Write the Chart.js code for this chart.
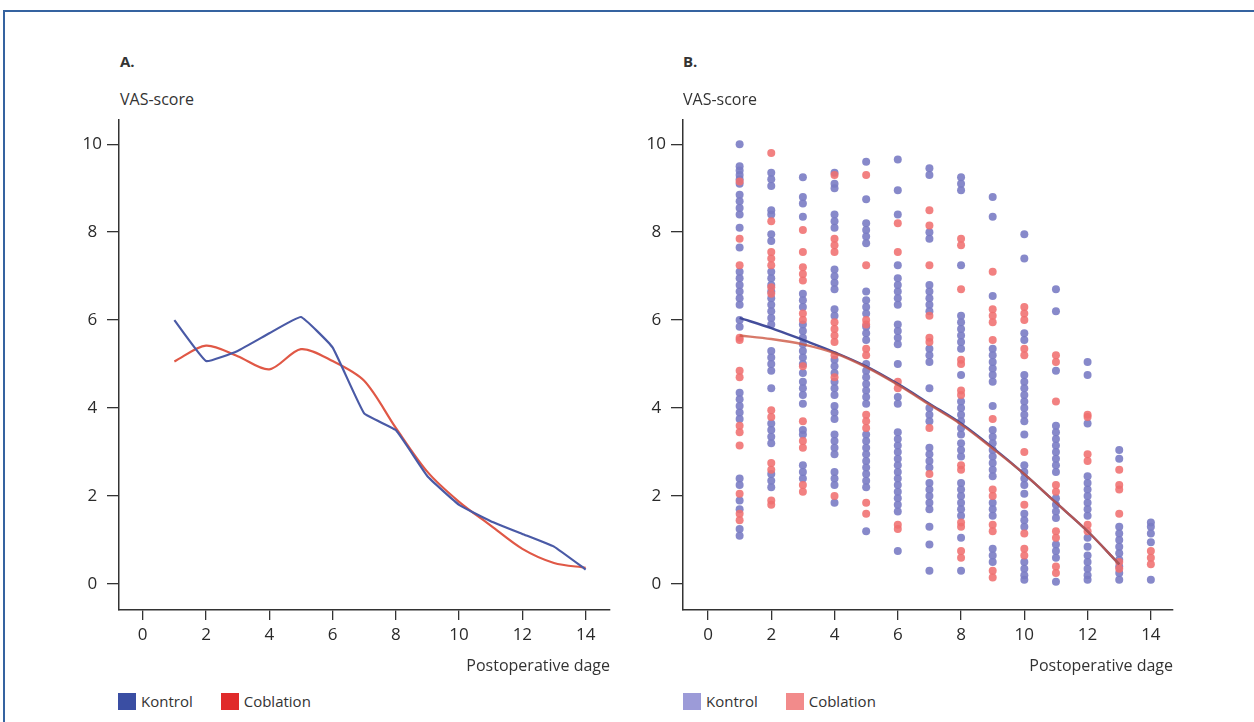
<!DOCTYPE html>
<html>
<head>
<meta charset="utf-8">
<script src="https://cdn.jsdelivr.net/npm/chart.js@4/dist/chart.umd.min.js"></script>
<style>
  body { margin: 0; background: #fff; font-family: "Open Sans", sans-serif; color: #333; }
  #page { position: relative; width: 1254px; height: 722px; overflow: hidden; }
  .frame { position: absolute; left: 3px; top: 10px; right: -4px; bottom: -4px; border-top: 2px solid #3563a0; border-left: 2px solid #3563a0; }
  .wrap { position: absolute; top: 105px; width: 600px; height: 565px; }
  .txt { position: absolute; white-space: nowrap; line-height: 1; }
  .panel { font-weight: bold; font-size: 15px; }
  .ytitle { font-size: 16px; }
  .xtitle { font-size: 16px; text-align: right; }
  .legend { position: absolute; top: 691px; font-size: 15px; display: flex; align-items: center; }
  .legend span.box { display: inline-block; width: 18px; height: 17px; margin-right: 5px; }
  .legend span.lab { margin-right: 28px; }
</style>
</head>
<body>
<div id="page">
  <div class="frame"></div>

  <div class="txt panel" style="left:120px; top:54px;">A.</div>
  <div class="txt ytitle" style="left:120px; top:91px;">VAS-score</div>
  <div class="wrap" style="left:40px;"><canvas id="chartA"></canvas></div>
  <div class="txt xtitle" style="right:644px; top:657px;">Postoperative dage</div>
  <div class="legend" id="legendA" style="left:118px;"></div>

  <div class="txt panel" style="left:683px; top:54px;">B.</div>
  <div class="txt ytitle" style="left:683px; top:91px;">VAS-score</div>
  <div class="wrap" style="left:605px;"><canvas id="chartB"></canvas></div>
  <div class="txt xtitle" style="right:81px; top:657px;">Postoperative dage</div>
  <div class="legend" id="legendB" style="left:683px;"></div>
</div>

<script>
// --- data -------------------------------------------------------------
const days = [1, 2, 3, 4, 5, 6, 7, 8, 9, 10, 11, 12, 13, 14];
const xTicks = [0, 2, 4, 6, 8, 10, 12, 14];
const yTicks = [0, 2, 4, 6, 8, 10];

// A: mean VAS per day
const kontrolMean   = [6.0, 5.07, 5.3, 5.7, 6.07, 5.38, 3.88, 3.5, 2.45, 1.8, 1.43, 1.14, 0.85, 0.33];
const coblationMean = [5.06, 5.42, 5.18, 4.88, 5.34, 5.07, 4.62, 3.55, 2.55, 1.87, 1.33, 0.8, 0.48, 0.37];

// B: individual scores, one list per day
const kontrolScatter = [
  [10.0, 9.5, 9.4, 9.3, 9.2, 9.1, 8.85, 8.7, 8.55, 8.4, 8.1, 7.65, 7.1, 6.95, 6.8, 6.65, 6.5, 6.35, 6.0, 5.85, 4.35, 4.2, 4.05, 3.9, 3.75, 2.4, 2.25, 1.9, 1.7, 1.25, 1.1],
  [9.35, 9.2, 9.05, 8.5, 8.4, 7.95, 7.8, 7.1, 6.95, 6.8, 6.65, 6.5, 6.35, 6.2, 6.05, 5.9, 5.3, 5.15, 5.0, 4.85, 4.45, 3.65, 3.5, 3.35, 3.2, 2.5, 2.35, 2.2],
  [9.25, 8.8, 8.65, 8.35, 6.6, 6.45, 6.3, 5.9, 5.75, 5.6, 5.45, 5.3, 5.15, 5.0, 4.8, 4.6, 4.45, 4.3, 4.1, 3.5, 3.4, 2.7, 2.55, 2.4],
  [9.35, 9.1, 9.0, 8.4, 8.25, 8.1, 7.15, 7.0, 6.85, 6.7, 6.25, 6.1, 5.1, 4.95, 4.8, 4.6, 4.45, 4.3, 4.05, 3.9, 3.75, 3.4, 3.25, 3.1, 2.95, 2.55, 2.4, 2.25, 1.85],
  [9.6, 8.75, 8.2, 8.05, 7.9, 7.75, 6.65, 6.45, 6.3, 6.15, 5.85, 5.7, 5.55, 5.0, 4.85, 4.7, 4.55, 4.4, 4.25, 4.1, 3.4, 3.25, 3.1, 2.95, 2.8, 2.65, 2.5, 2.35, 2.2, 1.2],
  [9.65, 8.95, 8.4, 7.25, 6.95, 6.8, 6.65, 6.5, 6.35, 5.9, 5.75, 5.6, 5.45, 5.0, 4.25, 4.1, 3.45, 3.3, 3.15, 3.0, 2.85, 2.7, 2.55, 2.4, 2.25, 2.1, 1.95, 1.8, 1.65, 0.75],
  [9.45, 9.3, 8.0, 7.85, 6.8, 6.65, 6.5, 6.35, 6.2, 5.35, 5.2, 5.05, 4.45, 4.0, 3.85, 3.7, 3.1, 2.95, 2.8, 2.65, 2.3, 2.15, 2.0, 1.85, 1.7, 1.3, 0.9, 0.3],
  [9.25, 9.1, 8.95, 7.25, 6.1, 5.95, 5.8, 5.65, 5.5, 5.35, 4.75, 4.15, 4.0, 3.85, 3.7, 3.55, 3.4, 3.2, 3.05, 2.9, 2.3, 2.15, 2.0, 1.85, 1.7, 1.55, 1.05, 0.3],
  [8.8, 8.35, 6.55, 5.35, 5.2, 5.05, 4.9, 4.75, 4.6, 4.05, 3.5, 3.35, 3.2, 3.05, 2.9, 2.75, 2.6, 2.45, 1.85, 1.7, 1.55, 0.8, 0.65, 0.5],
  [7.95, 7.4, 5.7, 5.55, 4.75, 4.6, 4.45, 4.3, 4.15, 4.0, 3.85, 3.7, 3.4, 2.7, 2.55, 2.4, 2.25, 2.05, 1.6, 1.45, 1.3, 0.5, 0.35, 0.2, 0.1],
  [6.7, 6.2, 4.85, 3.6, 3.45, 3.3, 3.15, 3.0, 2.85, 2.7, 2.55, 1.95, 1.8, 1.65, 1.5, 0.9, 0.75, 0.6, 0.05],
  [5.05, 4.75, 3.65, 2.45, 2.3, 2.15, 2.0, 1.85, 1.7, 1.55, 1.05, 0.85, 0.65, 0.5, 0.35, 0.2, 0.1],
  [3.05, 2.85, 1.3, 1.15, 1.0, 0.85, 0.7, 0.55, 0.4, 0.25, 0.1],
  [1.4, 1.3, 1.15, 0.95, 0.1]
];
const coblationScatter = [
  [9.15, 7.85, 7.25, 5.6, 5.55, 4.85, 4.7, 3.6, 3.45, 3.15, 2.05, 1.6, 1.45],
  [9.8, 8.25, 7.55, 7.4, 7.25, 6.75, 6.6, 3.95, 3.8, 2.75, 2.6, 1.9, 1.8],
  [8.05, 7.55, 7.2, 7.05, 6.9, 6.15, 6.0, 4.95, 3.7, 3.25, 3.1, 2.25, 2.1],
  [9.3, 7.85, 7.7, 7.55, 5.95, 5.8, 5.65, 5.5, 5.2, 4.7, 2.0],
  [9.3, 7.25, 6.0, 5.9, 5.35, 5.2, 3.85, 3.7, 3.55, 1.85, 1.6],
  [8.2, 7.55, 4.6, 4.45, 1.35, 1.25],
  [8.5, 8.15, 7.25, 6.1, 5.6, 5.5, 3.55, 2.5],
  [7.85, 7.7, 6.7, 5.1, 5.0, 4.4, 4.3, 2.7, 2.6, 1.4, 1.3, 0.75, 0.6],
  [7.1, 6.25, 6.1, 5.95, 5.55, 3.75, 2.15, 2.0, 1.35, 1.2, 0.3, 0.15],
  [6.3, 6.15, 6.0, 5.35, 5.2, 3.0, 1.8, 1.15, 0.8, 0.65],
  [5.2, 5.05, 4.15, 2.25, 2.1, 1.2, 1.05, 0.4, 0.25],
  [3.85, 3.8, 2.95, 2.8, 1.35, 1.2],
  [2.6, 2.25, 2.15, 1.6, 0.5, 0.35],
  [0.75, 0.6, 0.45]
];

// B: fitted curves, days 1-13
const trendDays      = [1, 2, 3, 4, 5, 6, 7, 8, 9, 10, 11, 12, 13];
const kontrolTrend   = [6.05, 5.82, 5.55, 5.27, 4.95, 4.55, 4.1, 3.65, 3.1, 2.5, 1.85, 1.2, 0.45];
const coblationTrend = [5.65, 5.57, 5.45, 5.25, 4.93, 4.53, 4.08, 3.63, 3.08, 2.5, 1.85, 1.2, 0.45];

// --- helpers ------------------------------------------------------------
Chart.defaults.font.family = '"Open Sans", sans-serif';
Chart.defaults.color = '#2a2a2a';

const toPoints = (xs, ys) => xs.map((x, i) => ({ x, y: ys[i] }));
const toScatter = cols => cols.flatMap((vals, i) => vals.map(v => ({ x: days[i], y: v })));

function axes(xMin, xMax, yWidth) {
  const common = {
    type: 'linear',
    grid: { display: true, drawOnChartArea: false, drawTicks: true, color: '#333', lineWidth: 1.3 },
    border: { display: true, color: '#333', width: 1.5 },
    ticks: { font: { size: 17 }, color: '#2a2a2a', includeBounds: false }
  };
  return {
    x: {
      ...common, min: xMin, max: xMax,
      grid: { ...common.grid, tickLength: 10 },
      ticks: { ...common.ticks, padding: 5, maxRotation: 0 },
      afterBuildTicks: s => { s.ticks = xTicks.map(v => ({ value: v })); },
      afterFit: s => { s.height = 60; }
    },
    y: {
      ...common, min: -0.59, max: 10.545,
      grid: { ...common.grid, tickLength: 12 },
      ticks: { ...common.ticks, padding: 5, crossAlign: 'center' },
      afterBuildTicks: s => { s.ticks = yTicks.map(v => ({ value: v })); },
      afterFit: s => { s.width = yWidth; }
    }
  };
}

const baseOpts = {
  responsive: false,
  animation: false,
  plugins: { legend: { display: false }, tooltip: { enabled: false } }
};

function sizeCanvas(id) {
  const c = document.getElementById(id);
  c.width = 600; c.height = 565;
  c.style.width = '600px'; c.style.height = '565px';
  return c;
}

function buildLegend(id, items) {
  const box = document.getElementById(id);
  items.forEach(it => {
    box.insertAdjacentHTML('beforeend',
      `<span class="box" style="background:${it.color}"></span><span class="lab">${it.label}</span>`);
  });
}

// --- chart A ----------------------------------------------------------
new Chart(sizeCanvas('chartA'), {
  type: 'line',
  data: {
    datasets: [
      { label: 'Kontrol', data: toPoints(days, kontrolMean), borderColor: '#4a5aa6', borderWidth: 2.2, pointRadius: 0, tension: 0.1, borderJoinStyle: 'round' },
      { label: 'Coblation', data: toPoints(days, coblationMean), borderColor: '#e05846', borderWidth: 2.2, pointRadius: 0, tension: 0.3, borderJoinStyle: 'round' }
    ]
  },
  options: {
    ...baseOpts,
    layout: { padding: { top: 5, right: 30, left: 0, bottom: 0 } },
    scales: axes(-0.75, 14.77, 79)
  }
});
buildLegend('legendA', [{ label: 'Kontrol', color: '#3a4ea3' }, { label: 'Coblation', color: '#e02a2a' }]);

// --- chart B ----------------------------------------------------------
new Chart(sizeCanvas('chartB'), {
  type: 'scatter',
  data: {
    datasets: [
      { type: 'line', label: 'Kontrol fit', data: toPoints(trendDays, kontrolTrend), borderColor: 'rgba(58,68,150,0.95)', borderWidth: 2.4, pointRadius: 0, cubicInterpolationMode: 'monotone', order: 1 },
      { type: 'line', label: 'Coblation fit', data: toPoints(trendDays, coblationTrend), borderColor: 'rgba(205,88,68,0.8)', borderWidth: 2.4, pointRadius: 0, cubicInterpolationMode: 'monotone', order: 0 },
      { label: 'Coblation', data: toScatter(coblationScatter), backgroundColor: 'rgba(240,112,112,0.88)', borderWidth: 0, pointRadius: 4, order: 2 },
      { label: 'Kontrol', data: toScatter(kontrolScatter), backgroundColor: 'rgba(122,124,196,0.9)', borderWidth: 0, pointRadius: 4, order: 3 }
    ]
  },
  options: {
    ...baseOpts,
    layout: { padding: { top: 5, right: 32, left: 0, bottom: 0 } },
    scales: axes(-0.79, 14.7, 78)
  }
});
buildLegend('legendB', [{ label: 'Kontrol', color: '#9c9bd8' }, { label: 'Coblation', color: '#f28b8b' }]);
</script>
</body>
</html>
